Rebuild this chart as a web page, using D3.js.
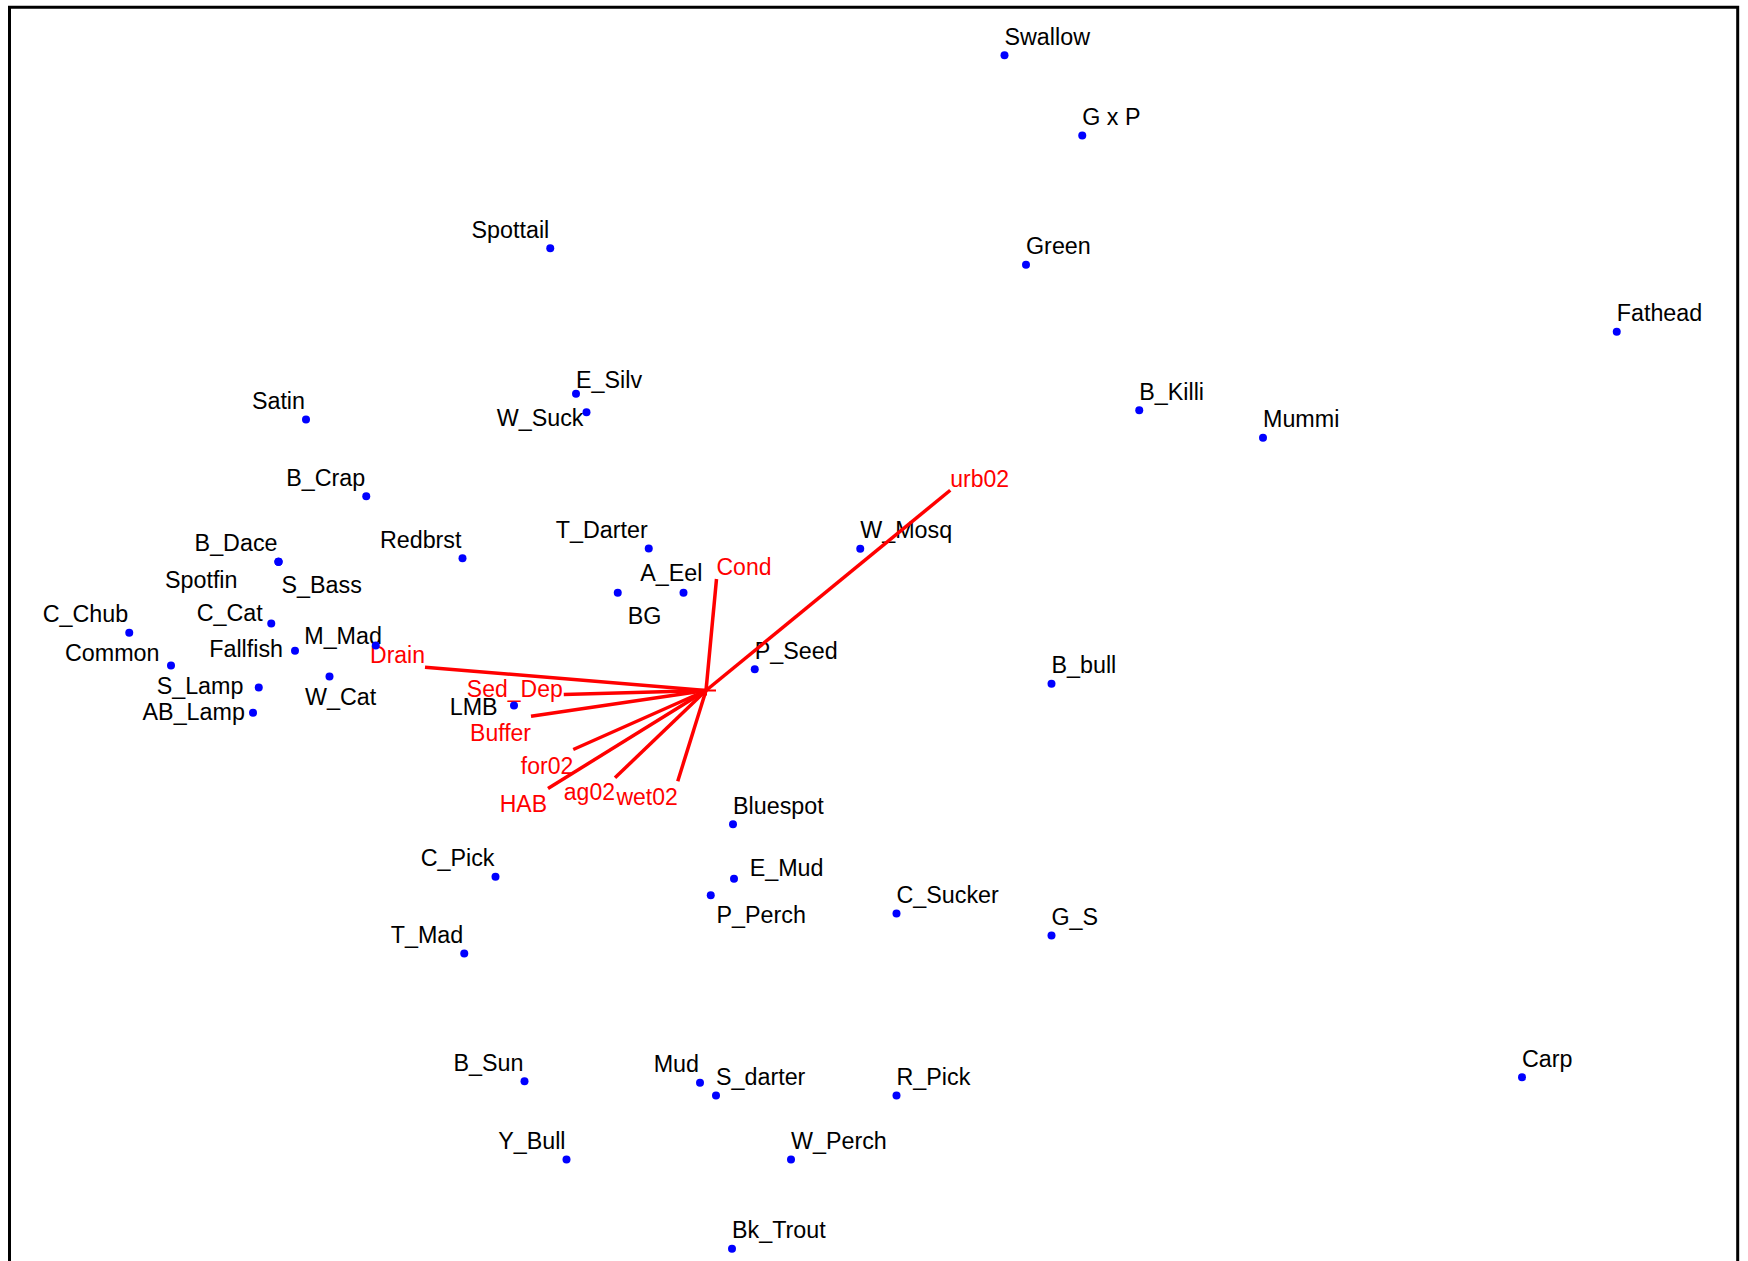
<!DOCTYPE html>
<html>
<head>
<meta charset="utf-8">
<script src="https://cdn.jsdelivr.net/npm/d3@7"></script>
<style>
  html, body { margin: 0; padding: 0; background: #fff; }
  svg { display: block; }
  text { font-family: "Liberation Sans", Arial, Helvetica, sans-serif; }
</style>
</head>
<body>
<svg id="chart" width="1748" height="1261"></svg>
<script>
// ---- Species scores (axis 1, axis 2) ----
const species = ["Swallow","G x P","Spottail","Green","Fathead","Satin","E_Silv","W_Suck","B_Killi","Mummi",
  "B_Crap","B_Dace","Redbrst","T_Darter","W_Mosq","A_Eel","BG","Spotfin","S_Bass","C_Chub",
  "C_Cat","Common","Fallfish","M_Mad","W_Cat","S_Lamp","AB_Lamp","LMB","P_Seed","B_bull",
  "Bluespot","C_Pick","E_Mud","P_Perch","C_Sucker","G_S","T_Mad","B_Sun","Mud","S_darter",
  "R_Pick","Carp","Y_Bull","W_Perch","Bk_Trout"];
const axis1 = [1.194,1.505,-0.623,1.280,3.643,-1.600,-0.520,-0.478,1.733,2.228,
  -1.359,-1.710,-0.974,-0.229,0.617,-0.090,-0.353,-1.710,-1.710,-2.307,
  -1.739,-2.140,-1.644,-1.321,-1.506,-1.789,-1.812,-0.768,0.195,1.382,
  0.108,-0.842,0.112,0.019,0.762,1.382,-0.967,-0.726,-0.024,0.040,
  0.762,3.264,-0.558,0.340,0.104];
const axis2 = [2.541,2.220,1.769,1.703,1.435,1.084,1.187,1.113,1.121,1.011,
  0.777,0.515,0.529,0.568,0.567,0.391,0.391,0.515,0.515,0.231,
  0.268,0.100,0.159,0.180,0.056,0.012,-0.089,-0.060,0.085,0.027,
  -0.535,-0.745,-0.753,-0.819,-0.892,-0.980,-1.052,-1.563,-1.569,-1.620,
  -1.620,-1.547,-1.876,-1.876,-2.233];

// ---- Environmental variables (biplot arrows) ----
const envVars = ["urb02","Cond","Drain","Sed_Dep","Buffer","for02","HAB","ag02","wet02"];
const envAxis1 = [0.977,0.042,-1.124,-0.569,-0.700,-0.531,-0.632,-0.364,-0.113];
const envAxis2 = [0.801,0.446,0.093,-0.016,-0.103,-0.236,-0.392,-0.349,-0.363];

// ---- Label placement (anchor, dx, dy in px relative to the point) ----
const NE = ["start", 0, -10.5], NW = ["end", -1, -10.5];
const speciesLabelPlace = [NE,NE,NW,NE,NE,NW,["start",0,-6],["end",-3,14],NE,NE,
  NW,NW,NW,NW,NE,["end",19,-11.5],["start",10,31],["end",-41,26.5],["start",3,31.5],NW,
  ["end",-8.5,-2.3],["end",-11.5,-4.3],["end",-12,6.4],["end",6.2,-1.7],["start",-24.5,28],["end",-15.3,6.3],["end",-8.1,7.7],["end",-16.4,9.3],NE,NE,
  NE,NW,["start",15.7,-2.3],["start",5.8,28],NE,NE,NW,NW,NW,NE,
  NE,NE,NW,NE,NE];
const envLabelPlace = [["start",0,-3.5],["start",0,-4.3],["end",0,-4.4],["end",-1,2.7],["end",0,24.3],
  ["end",0,24.3],["end",-1,23],["end",0,22.7],["end",0,23.6]];

// ---- Layout ----
const W = 1748, H = 1261;
const frame = { left: 9.5, right: 1737.7, top: 7.2, bottom: 1268 };
const originPx = { x: 706, y: 690.5 };
const pxPerUnit = 250;

const x = d3.scaleLinear()
  .domain([(frame.left - originPx.x) / pxPerUnit, (frame.right - originPx.x) / pxPerUnit])
  .range([frame.left, frame.right]);
const y = d3.scaleLinear()
  .domain([(originPx.y - frame.bottom) / pxPerUnit, (originPx.y - frame.top) / pxPerUnit])
  .range([frame.bottom, frame.top]);

const svg = d3.select("#chart");
svg.append("rect").attr("width", W).attr("height", H).attr("fill", "#fff");

// frame (bottom edge lies beyond the visible area)
svg.append("path")
  .attr("d", `M${frame.left},${frame.bottom}V${frame.top}H${frame.right}V${frame.bottom}`)
  .attr("fill", "none").attr("stroke", "#000").attr("stroke-width", 3);

const spData = species.map((s, i) => ({ name: s, a1: axis1[i], a2: axis2[i], place: speciesLabelPlace[i] }));
const envData = envVars.map((s, i) => ({ name: s, a1: envAxis1[i], a2: envAxis2[i], place: envLabelPlace[i] }));

// species labels
svg.append("g").selectAll("text").data(spData).join("text")
  .attr("x", d => x(d.a1) + d.place[1])
  .attr("y", d => y(d.a2) + d.place[2])
  .attr("text-anchor", d => d.place[0])
  .attr("font-size", 23.3)
  .attr("fill", "#000")
  .text(d => d.name);

// env arrows (lines)
const ge = svg.append("g");
ge.selectAll("line").data(envData).join("line")
  .attr("x1", x(0)).attr("y1", y(0))
  .attr("x2", d => x(d.a1)).attr("y2", d => y(d.a2))
  .attr("stroke", "#ff0000").attr("stroke-width", 3.5);

// origin cross
ge.append("path")
  .attr("d", `M${x(0) - 5},${y(0)}H${x(0) + 10}M${x(0)},${y(0) - 5}V${y(0) + 5}`)
  .attr("stroke", "#ff0000").attr("stroke-width", 2);

ge.selectAll("text").data(envData).join("text")
  .attr("x", d => x(d.a1) + d.place[1])
  .attr("y", d => y(d.a2) + d.place[2])
  .attr("text-anchor", d => d.place[0])
  .attr("font-size", 23)
  .attr("fill", "#ff0000")
  .text(d => d.name);

// species points
svg.append("g").selectAll("circle").data(spData).join("circle")
  .attr("cx", d => x(d.a1))
  .attr("cy", d => y(d.a2))
  .attr("r", 4)
  .attr("fill", "#0000ff");
</script>
</body>
</html>
